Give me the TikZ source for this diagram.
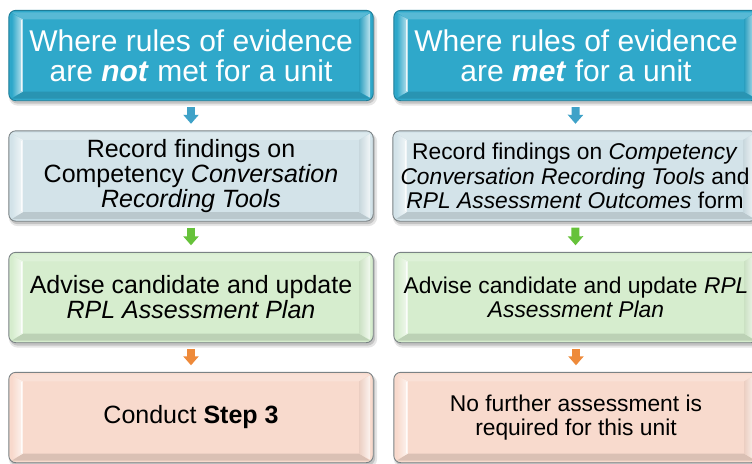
\documentclass[tikz,border=0pt]{standalone}
\usepackage{fontspec}
\setmainfont{Liberation Sans}
\usetikzlibrary{calc,arrows.meta}
\pgfdeclarelayer{background}
\pgfsetlayers{background,main}

\definecolor{cTop}{HTML}{2FA8CA}
\definecolor{cTopEdge}{HTML}{1E7D98}
\definecolor{cRec}{HTML}{D3E3E9}
\definecolor{cAdv}{HTML}{D6EDCE}
\definecolor{cEnd}{HTML}{F8DACD}
\definecolor{cEdge}{HTML}{7A8285}
\definecolor{aBlue}{HTML}{3FA2C8}
\definecolor{aGreen}{HTML}{66C23A}
\definecolor{aOrange}{HTML}{EE8A3A}

% bevelled panel behind a node: name, face colour, edge colour
\newcommand{\bevelpanel}[3]{%
\begin{pgfonlayer}{background}
  \fill[black,opacity=.10,rounded corners=9pt] ($(#1.north west)+(0,2)$) rectangle ($(#1.south east)+(4,5)$);
  \fill[black,opacity=.15,rounded corners=8pt] ($(#1.north west)+(1,2)$) rectangle ($(#1.south east)+(2,3)$);
  \fill[#2,draw=#3,line width=.9pt,rounded corners=7pt] (#1.north west) rectangle (#1.south east);
  % top and bottom bevels
  \fill[#2!80!white] ($(#1.north west)+(3,2)$) -- ($(#1.north east)+(-3,2)$) -- ($(#1.north east)+(-14,9)$) -- ($(#1.north west)+(14,9)$) -- cycle;
  \fill[#2!88!black] ($(#1.south west)+(3,-2)$) -- ($(#1.south east)+(-3,-2)$) -- ($(#1.south east)+(-14,-9)$) -- ($(#1.south west)+(14,-9)$) -- cycle;
  % side bevels
  \shade[left color=#2, right color=#2!30!white] ($(#1.north west)+(3,3)$) -- ($(#1.north west)+(14,9)$) -- ($(#1.south west)+(14,-9)$) -- ($(#1.south west)+(3,-3)$) -- cycle;
  \shade[left color=#2!95!black, right color=#2!30!white] ($(#1.north east)+(-3,3)$) -- ($(#1.north east)+(-14,9)$) -- ($(#1.south east)+(-14,-9)$) -- ($(#1.south east)+(-3,-3)$) -- cycle;
  \draw[white,line width=1.2pt,opacity=.8] ($(#1.north west)+(13,10)$) -- ($(#1.south west)+(13,-10)$);
\end{pgfonlayer}}

\tikzset{
  panel/.style={rectangle,minimum width=364pt,minimum height=90pt,inner sep=0pt,align=center},
  toppanel/.style={panel,text=white,font=\fontsize{30}{30}\selectfont},
  leftpanel/.style={panel,text=black,font=\fontsize{25}{25}\selectfont},
  rightpanel/.style={panel,text=black,font=\fontsize{22.8}{24.5}\selectfont},
  flow/.style={line width=8pt,-{Triangle[width=15pt,length=9pt]},shorten <=6.5pt,shorten >=7pt}
}

\begin{document}
\begin{tikzpicture}[x=1pt,y=-1pt]
\useasboundingbox (0,0) rectangle (752,463);
\clip (0,0) rectangle (752,463);

% left column
\node[toppanel]   (l1) at (191,55.5) {Where rules of evidence\\are \textbf{\textit{not}} met for a unit};
\node[leftpanel]  (l2) at (191,176)  {Record findings on\\Competency \textit{Conversation}\\\textit{Recording Tools}};
\node[leftpanel]  (l3) at (191,297.5){Advise candidate and update\\\textit{RPL Assessment Plan}};
\node[leftpanel]  (l4) at (191,417.5){Conduct \textbf{Step 3}};

% right column
\node[toppanel]   (r1) at (576,55.5) {Where rules of evidence\\are \textbf{\textit{met}} for a unit};
\node[rightpanel] (r2) at (575,176)  {Record findings on \textit{Competency}\\\textit{Conversation Recording Tools} and\\\textit{RPL Assessment Outcomes} form};
\node[rightpanel] (r3) at (576,297.5){Advise candidate and update \textit{RPL}\\\textit{Assessment Plan}};
\node[rightpanel] (r4) at (576,417.5){No further assessment is\\required for this unit};

\bevelpanel{l1}{cTop}{cTopEdge}
\bevelpanel{l2}{cRec}{cEdge}
\bevelpanel{l3}{cAdv}{cEdge}
\bevelpanel{l4}{cEnd}{cEdge}
\bevelpanel{r1}{cTop}{cTopEdge}
\bevelpanel{r2}{cRec}{cEdge}
\bevelpanel{r3}{cAdv}{cEdge}
\bevelpanel{r4}{cEnd}{cEdge}

% connectors
\draw[flow,aBlue]   (l1) -- (l2);
\draw[flow,aGreen]  (l2) -- (l3);
\draw[flow,aOrange] (l3) -- (l4);
\draw[flow,aBlue]   (r1) -- (r2);
\draw[flow,aGreen]  (r2) -- (r3);
\draw[flow,aOrange] (r3) -- (r4);
\end{tikzpicture}
\end{document}
